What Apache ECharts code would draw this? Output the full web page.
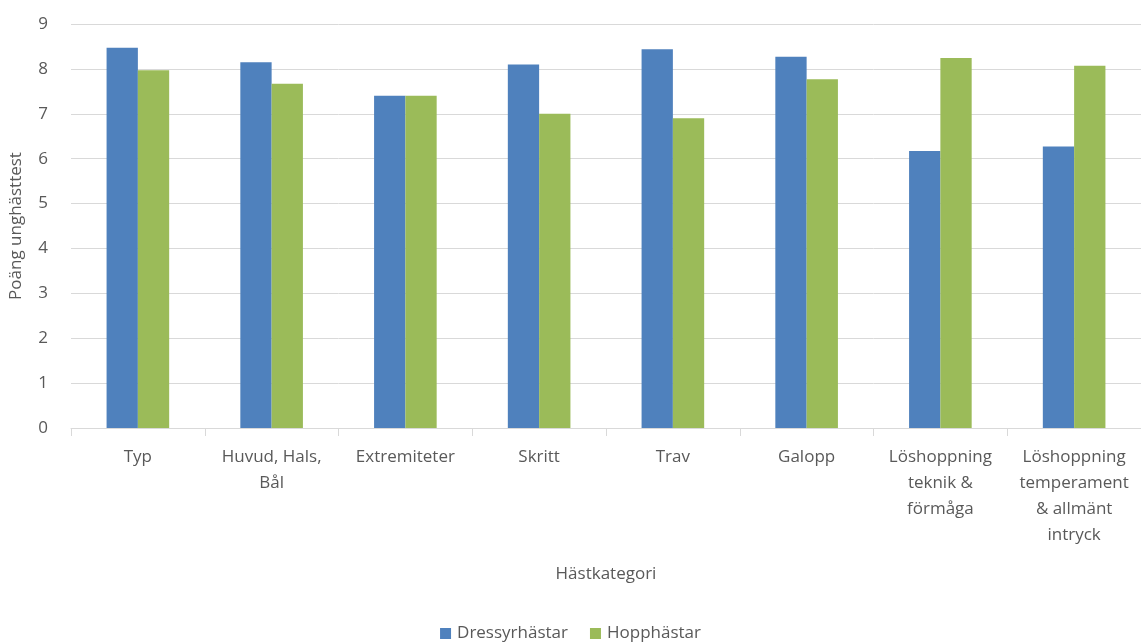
<!DOCTYPE html>
<html>
<head>
<meta charset="utf-8">
<script src="https://cdn.jsdelivr.net/npm/echarts@6/dist/echarts.min.js"></script>
<style>
  html, body { margin: 0; padding: 0; background: #fff; }
  #chart { width: 1141px; height: 644px; }
</style>
</head>
<body>
<div id="chart"></div>
<script>
// Kategorier (radbrytningar som i axeletiketterna)
const categories = [
  'Typ',
  'Huvud, Hals,\nBål',
  'Extremiteter',
  'Skritt',
  'Trav',
  'Galopp',
  'Löshoppning\nteknik &\nförmåga',
  'Löshoppning\ntemperament\n& allmänt\nintryck'
];
const dressyr = [8.47, 8.15, 7.40, 8.10, 8.44, 8.27, 6.17, 6.27];
const hopp = [7.97, 7.67, 7.40, 7.00, 6.90, 7.77, 8.24, 8.07];
const seriesNames = ['Dressyrhästar', 'Hopphästar'];
const yTicks = { min: 0, max: 9, interval: 1 };

const textColor = '#595959';
const font = 'Open Sans';

const chart = echarts.init(document.getElementById('chart'), null, { renderer: 'canvas' });
chart.setOption({
  animation: false,
  textStyle: { fontFamily: font, color: textColor },
  grid: { left: 71, top: 24, width: 1074, height: 404, containLabel: false },
  legend: {
    bottom: -3,
    left: 'center',
    itemWidth: 11,
    itemHeight: 11,
    itemGap: 22,
    icon: 'rect',
    textStyle: { fontFamily: font, fontSize: 17, color: textColor, padding: [0, 0, 0, 1] },
    data: seriesNames
  },
  xAxis: {
    type: 'category',
    data: categories,
    name: 'Hästkategori',
    nameLocation: 'middle',
    nameGap: 138,
    nameTextStyle: { fontFamily: font, fontSize: 17, color: textColor },
    axisLine: { lineStyle: { color: '#d9d9d9', width: 1 } },
    axisTick: { show: true, length: 8, lineStyle: { color: '#d9d9d9' } },
    axisLabel: {
      interval: 0,
      margin: 16,
      fontFamily: font,
      fontSize: 17,
      color: textColor,
      lineHeight: 26,
      align: 'center'
    }
  },
  yAxis: {
    type: 'value',
    min: yTicks.min,
    max: yTicks.max,
    interval: yTicks.interval,
    name: 'Poäng unghästtest',
    nameLocation: 'middle',
    nameGap: 46,
    nameRotate: 90,
    nameTextStyle: { fontFamily: font, fontSize: 17, color: textColor },
    axisLine: { show: false },
    axisTick: { show: false },
    axisLabel: { fontFamily: font, fontSize: 17, color: textColor, margin: 23 },
    splitLine: { lineStyle: { color: '#d9d9d9', width: 1 } }
  },
  series: [
    {
      name: seriesNames[0],
      type: 'bar',
      data: dressyr,
      barWidth: '23.4%',
      barGap: '0%',
      itemStyle: { color: '#4F81BD' }
    },
    {
      name: seriesNames[1],
      type: 'bar',
      data: hopp,
      barWidth: '23.4%',
      itemStyle: { color: '#9BBB59' }
    }
  ]
});
</script>
</body>
</html>
